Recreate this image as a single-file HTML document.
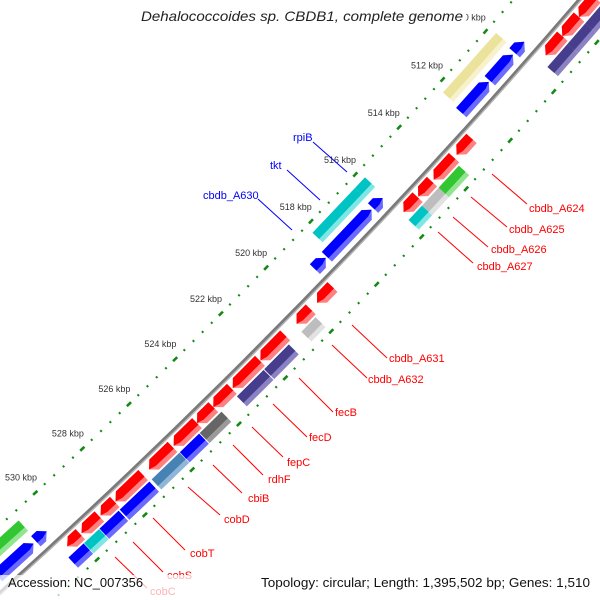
<!DOCTYPE html>
<html><head><meta charset="utf-8"><style>
html,body{margin:0;padding:0;background:#fff;width:600px;height:600px;overflow:hidden;}
svg{display:block;font-family:"Liberation Sans",sans-serif;overflow:hidden;}
</style></head><body>
<svg id="map" width="600" height="600" viewBox="0 0 600 600" xmlns="http://www.w3.org/2000/svg">
<rect x="0" y="0" width="600" height="600" fill="#fff"/>
<g id="rings"></g>
<g id="backbone"></g>
<g id="features"></g>
<g id="ticklabels"></g>
<g id="labels" font-size="11">
  <g stroke="#0000ff" stroke-width="1">
    <line x1="313" y1="142" x2="347" y2="172"/>
    <line x1="287" y1="170" x2="320" y2="200"/>
    <line x1="258" y1="199" x2="292" y2="230"/>
  </g>
  <g fill="#0000ff">
    <text x="293" y="141">rpiB</text>
    <text x="270" y="169">tkt</text>
    <text x="203" y="199">cbdb_A630</text>
  </g>
  <g stroke="#ff0000" stroke-width="1">
    <line x1="492" y1="174" x2="527" y2="204"/>
    <line x1="471" y1="197" x2="507" y2="227"/>
    <line x1="453" y1="217" x2="488" y2="247"/>
    <line x1="438" y1="232" x2="473" y2="263"/>
    <line x1="352" y1="325" x2="387" y2="358"/>
    <line x1="332" y1="345" x2="367" y2="378"/>
    <line x1="299" y1="378" x2="333" y2="412"/>
    <line x1="273" y1="404" x2="307" y2="437"/>
    <line x1="252" y1="427" x2="283" y2="457"/>
    <line x1="233" y1="445" x2="263" y2="475"/>
    <line x1="213" y1="465" x2="242" y2="493"/>
    <line x1="188" y1="487" x2="220" y2="515"/>
    <line x1="153" y1="518" x2="185" y2="550"/>
    <line x1="133" y1="542" x2="163" y2="572"/>
    <line x1="115" y1="557" x2="147" y2="588"/>
  </g>
  <g fill="#ff0000">
    <text x="529" y="212">cbdb_A624</text>
    <text x="509" y="233">cbdb_A625</text>
    <text x="491" y="253">cbdb_A626</text>
    <text x="477" y="270">cbdb_A627</text>
    <text x="389" y="362">cbdb_A631</text>
    <text x="368" y="383">cbdb_A632</text>
    <text x="335" y="416">fecB</text>
    <text x="309" y="441">fecD</text>
    <text x="287" y="466">fepC</text>
    <text x="268" y="483">rdhF</text>
    <text x="248" y="502">cbiB</text>
    <text x="224" y="523">cobD</text>
    <text x="190" y="557">cobT</text>
    <text x="167" y="579">cobS</text>
    <text x="150" y="595">cobC</text>
  </g>
</g>
<rect x="136" y="4" width="330" height="24" fill="#fff"/>
<text x="141" y="21" font-size="14" font-style="italic" fill="#222" textLength="322" lengthAdjust="spacingAndGlyphs">Dehalococcoides sp. CBDB1, complete genome</text>
<rect x="0" y="575" width="600" height="25" fill="#fff" opacity="0.7"/>
<text x="8" y="587" font-size="13" fill="#111" textLength="135" lengthAdjust="spacingAndGlyphs">Accession: NC_007356</text>
<text x="261" y="587" font-size="13" fill="#111" textLength="329" lengthAdjust="spacingAndGlyphs">Topology: circular; Length: 1,395,502 bp; Genes: 1,510</text>
</svg>
<script>
// ---- data (kbp) ----
const tickKbp = [504,506,508,510,512,514,516,518,520,522,524,526,528,530,532,534];
const tickLabels = ["510 kbp","512 kbp","514 kbp","516 kbp","518 kbp","520 kbp","522 kbp","524 kbp","526 kbp","528 kbp","530 kbp"];
const tickLabelKbp = [510,512,514,516,518,520,522,524,526,528,530];
// inner blue track (arrows pointing toward lower kbp)
const blueStart = [511.10,509.98,509.45,516.45,515.95,518.50,530.55,531.10,532.70];
const blueEnd   = [512.37,511.05,509.90,518.45,516.38,518.98,531.00,532.60,533.50];
// inner coloured boxes
const innerStart = [511.09,509.82,516.31,515.86,530.96];
const innerEnd   = [512.29,511.09,518.22,516.31,533.50];
const innerKind  = ["yellow","yellow","cyan","cyan","green"];
// outer red track (arrows pointing toward higher kbp)
const redStart = [508.55,507.77,507.00,506.20,512.75,513.55,514.55,515.20,519.00,519.96,521.08,522.18,523.40,524.20,524.90,525.95,527.20,528.40,529.05,529.85];
const redEnd   = [509.33,508.55,507.77,506.95,513.43,514.47,515.17,515.83,519.68,520.58,522.16,523.36,524.20,524.90,525.90,526.95,528.37,529.00,529.80,530.40];
// outer coloured boxes
const outerStart = [508.63,507.79,506.40,513.63,514.55,515.30,520.03,521.20,522.30,524.12,525.08,525.92,527.20,528.50,529.32,529.97];
const outerEnd   = [509.56,508.63,507.79,514.55,515.30,515.90,520.65,522.27,523.45,525.05,525.90,527.10,528.45,529.30,529.95,530.60];
const outerKind  = ["purple","purple","purple","green","gray","cyan","gray","purple","purple","dark","blue","steel","blue","blue","cyan","blue"];

// ---- geometry ----
const CX = -4364.8, CY = -4250.6;
const R_BACK = 6520, R_TICK_IN = 6470, R_TICK_OUT = 6561;
const R_BLUE = 6506, R_INNER = 6486, R_RED = 6531, R_OUTER = 6547, HALF = 7;
const NS = "http://www.w3.org/2000/svg";
const palette = {
  red:["#ff0000","#ff8080"], blue:["#0000ff","#6a6aff"], yellow:["#ebe39b","#f7f2cc"],
  cyan:["#00c4c4","#7fe6e6"], green:["#33c633","#8fe68f"], gray:["#bdbdbd","#e2e2e2"],
  purple:["#463d8c","#8a82c2"], dark:["#666666","#9a9a9a"], steel:["#4682b4","#8fb6d6"]
};
function ang(k){ return (42.01 + (k - 512) * 0.2856) * Math.PI / 180; }
function pt(k, r){ const a = ang(k); return [CX + r * Math.cos(a), CY + r * Math.sin(a)]; }
function P(arr){ return arr.map(p => p[0].toFixed(2) + "," + p[1].toFixed(2)).join(" "); }

function shape(a, b, r, ro, dir, arrow){
  const ri = r - HALF;
  if (!arrow) return [pt(a, ri), pt(b, ri), pt(b, ro), pt(a, ro)];
  let h = 0.22; if (b - a < 2 * h) h = (b - a) * 0.5;
  if (dir > 0) return [pt(a, ri), pt(b - h, ri), pt(b, r), pt(b - h, ro), pt(a, ro)];
  return [pt(b, ri), pt(a + h, ri), pt(a, r), pt(a + h, ro), pt(b, ro)];
}
function drawFeature(group, a, b, r, kind, dir, arrow, name){
  const g = document.createElementNS(NS, "g");
  
  
  const hi = document.createElementNS(NS, "polygon");
  hi.setAttribute("points", P(shape(a, b, r, r + HALF, dir, arrow)));
  hi.setAttribute("fill", palette[kind][1]);
  
  
  const main = document.createElementNS(NS, "polygon");
  main.setAttribute("points", P(shape(a, b, r, r + HALF * 0.3, dir, arrow)));
  main.setAttribute("fill", palette[kind][0]);
  
  
  g.appendChild(hi); g.appendChild(main);
  group.appendChild(g);
}

// rings
const rings = document.getElementById("rings");
function seg(k1, k2, r, w, name){
  const p1 = pt(k1, r), p2 = pt(k2, r);
  const l = document.createElementNS(NS, "line");
  l.setAttribute("x1", p1[0]); l.setAttribute("y1", p1[1]);
  l.setAttribute("x2", p2[0]); l.setAttribute("y2", p2[1]);
  l.setAttribute("stroke", "#138a13"); l.setAttribute("stroke-width", w);
  
  
  rings.appendChild(l);
}
for (let i = 0; i < tickKbp.length - 1; i++){
  const k0 = tickKbp[i];
  [R_TICK_IN, R_TICK_OUT].forEach(r => {
    seg(k0 - 0.09, k0 + 0.09, r, 2.6, 'major-tick');
    for (let j = 1; j < 5; j++){ const k = k0 + j * 0.4; seg(k - 0.03, k + 0.03, r, 2.2, 'minor-tick'); }
  });
}
// backbone
const bb = document.getElementById("backbone");
[[R_BACK, "#7a7a7a", 4], [R_BACK + 1.3, "#b8b8b8", 1.2]].forEach((s, i) => {
  const c = document.createElementNS(NS, "circle");
  c.setAttribute("cx", CX); c.setAttribute("cy", CY); c.setAttribute("r", s[0]);
  c.setAttribute("fill", "none"); c.setAttribute("stroke", s[1]); c.setAttribute("stroke-width", s[2]);
  
  
  bb.appendChild(c);
});
// features
const fg = document.getElementById("features");
blueStart.forEach((s, i) => drawFeature(fg, s, blueEnd[i], R_BLUE, "blue", -1, true, 'cds-reverse-' + i));
innerStart.forEach((s, i) => drawFeature(fg, s, innerEnd[i], R_INNER, innerKind[i], 0, false, 'category-inner-' + i));
redStart.forEach((s, i) => drawFeature(fg, s, redEnd[i], R_RED, "red", 1, true, 'cds-forward-' + i));
outerStart.forEach((s, i) => drawFeature(fg, s, outerEnd[i], R_OUTER, outerKind[i], 0, false, 'category-outer-' + i));
// tick labels
const tl = document.getElementById("ticklabels");
tickLabelKbp.forEach((k, i) => {
  const p = pt(k, 6449);
  const t = document.createElementNS(NS, "text");
  t.setAttribute("x", p[0]); t.setAttribute("y", p[1] + 3);
  t.setAttribute("text-anchor", "middle"); t.setAttribute("font-size", "9"); t.setAttribute("fill", "#333");
  
  
  t.textContent = tickLabels[i];
  tl.appendChild(t);
});
</script>
</body></html>
